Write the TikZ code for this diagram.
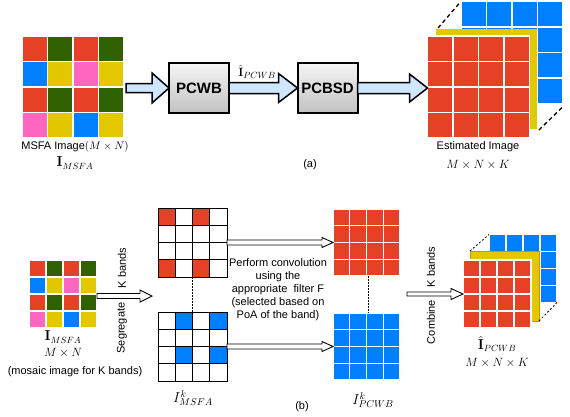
\documentclass[tikz,border=0pt]{standalone}
\usepackage[no-math]{fontspec}
\setmainfont{Liberation Sans}
\usetikzlibrary{calc}
\definecolor{mred}{HTML}{E64027}
\definecolor{mgreen}{HTML}{2F6100}
\definecolor{mblue}{HTML}{0080FF}
\definecolor{myellow}{HTML}{E3C800}
\definecolor{mgold}{HTML}{C09A00}
\definecolor{mpink}{HTML}{FF66C0}
\definecolor{arrowblue}{HTML}{CFE6FF}
\newcommand{\cellgrid}[4]{%
  \foreach \c [count=\i from 0] in {#3} {
    \pgfmathtruncatemacro\row{div(\i,4)}
    \pgfmathtruncatemacro\col{mod(\i,4)}
    \path[#4, fill=\c] ($(#1.north west)+(\col*#2,\row*#2)$) rectangle ++(#2,#2);
  }}
\newcommand{\barrow}[6]{%
  \draw[#1] let \p1=(#2), \p2=(#3) in
    (\x1,\y1+#4) -- (\x2-#6,\y1+#4) -- (\x2-#6,\y1+#5) -- (\x2,\y1)
    -- (\x2-#6,\y1-#5) -- (\x2-#6,\y1-#4) -- (\x1,\y1-#4) -- cycle;}
\begin{document}
\begin{tikzpicture}[x=1pt,y=-1pt,
  every node/.style={inner sep=0pt, outer sep=0pt, font=\fontsize{11}{13}\selectfont},
  gridbox/.style={minimum width=#1pt, minimum height=#1pt},
  procbox/.style={draw=black, line width=2pt, top color=gray!8, bottom color=gray!48,
    minimum width=60pt, minimum height=50pt, font=\fontsize{15}{18}\selectfont\bfseries},
  bigarrow/.style={fill=arrowblue, draw=black, line width=1.5pt, line join=miter},
  thinarrow/.style={fill=white, draw=black, line width=0.9pt, line join=miter},
  mathlbl/.style={font=\fontsize{12.5}{15}\selectfont},
  biglbl/.style={font=\fontsize{13.5}{16}\selectfont},
  colcell/.style={draw=white, line width=1.4pt},
  sparsecell/.style={draw=black, line width=0.9pt},
  cubecell/.style={draw=white, line width=1.5pt},
  vdots/.style={line width=0.6pt, dash pattern=on 1.5pt off 1.5pt},
]
\useasboundingbox (0,0) rectangle (570,416);

% ---------- (a) ----------
\node[gridbox=102] (mosA) at (73,87) {};
\cellgrid{mosA}{25.5}{mred,mgreen,mred,mgreen,mblue,myellow,mpink,myellow,mred,mgreen,mred,mgreen,mpink,myellow,mblue,myellow}{colcell}
\node (lblA1) at (75,147) {MSFA Image$(M\times N)$};
\node[biglbl] (lblA2) at (75,163) {$\mathbf{I}_{MSFA}$};

\node[procbox] (pcwb) at (199,88) {PCWB};
\node[procbox] (pcbsd) at (327.5,88) {PCBSD};

% cube (a)
\node[gridbox=102] (cubAb) at (512,52.5) {};
\cellgrid{cubAb}{25.5}{mblue,mblue,mblue,mblue,mblue,mblue,mblue,mblue,mblue,mblue,mblue,mblue,mblue,mblue,mblue,mblue}{cubecell}
\node[fill=myellow, minimum width=101pt, minimum height=100pt] (cubAy) at (486.5,79) {};
\node[gridbox=102] (cubAr) at (478.5,87) {};
\cellgrid{cubAr}{25.5}{mred,mred,mred,mred,mred,mred,mred,mred,mred,mred,mred,mred,mred,mred,mred,mred}{cubecell}
\draw[line width=1.3pt, dash pattern=on 4pt off 3pt] ($(cubAy.north west)+(2,-1)$) -- ($(cubAb.north west)+(-1,1)$);
\draw[line width=1.3pt, dash pattern=on 4pt off 3pt] ($(cubAy.south east)+(2,1)$) -- ($(cubAb.south east)+(0,3)$);
\node (lblA3) at (478,147) {Estimated Image};
\node[mathlbl] (lblA4) at (478,165) {$M\times N\times K$};
\node (lbla) at (310,165) {(a)};

\barrow{bigarrow}{$(mosA.east)+(2,1)$}{pcwb.west}{4.5pt}{15pt}{17pt}
\barrow{bigarrow}{pcwb.east}{pcbsd.west}{5.5pt}{14.5pt}{19pt}
\barrow{bigarrow}{pcbsd.east}{cubAr.west}{5.5pt}{14pt}{18pt}
\node[mathlbl] (lblhat) at (257,72) {$\hat{\mathbf{I}}_{PCWB}$};

% ---------- (b) ----------
\node[gridbox=68] (mosB) at (63,294) {};
\cellgrid{mosB}{17}{mred,mgreen,mred,mgreen,mblue,myellow,mpink,myellow,mred,mgreen,mred,mgreen,mpink,myellow,mblue,myellow}{colcell}
\node[biglbl] (lblB1) at (63,337) {$\mathbf{I}_{MSFA}$};
\node[mathlbl] (lblB2) at (63,353) {$M\times N$};
\node (lblB3) at (75,372) {(mosaic image for K bands)};

\node[gridbox=69] (spT) at (192.5,242.5) {};
\cellgrid{spT}{17.25}{mred,white,mred,white,white,white,white,white,white,white,white,white,mred,white,mred,white}{sparsecell}
\node[gridbox=69] (spB) at (192.5,346.5) {};
\cellgrid{spB}{17.25}{white,mblue,white,mblue,white,white,white,white,white,mblue,white,mblue,white,white,white,white}{sparsecell}
\draw[vdots] (spT.south) -- (spB.north);
\node[font=\fontsize{14}{16}\selectfont] (lblB4) at (193,398) {$I^k_{MSFA}$};

\node[gridbox=67] (fullR) at (366.5,242.5) {};
\cellgrid{fullR}{16.75}{mred,mred,mred,mred,mred,mred,mred,mred,mred,mred,mred,mred,mred,mred,mred,mred}{colcell}
\node[gridbox=67] (fullB) at (366.5,346.5) {};
\cellgrid{fullB}{16.75}{mblue,mblue,mblue,mblue,mblue,mblue,mblue,mblue,mblue,mblue,mblue,mblue,mblue,mblue,mblue,mblue}{colcell}
\draw[vdots] ($(fullR.south)+(1.5,0)$) -- ($(fullB.north)+(1.5,0)$);
\node[font=\fontsize{14}{16}\selectfont] (lblB5) at (373,400) {$I^k_{PCWB}$};
\node (lblb) at (302,407) {(b)};

\node[align=center] (conv) at (278,290) {Perform convolution\\using the\\appropriate\ \ filter F\\(selected based on\\PoA of the band)};

\coordinate (segEnd) at (152,296);
\barrow{thinarrow}{$(mosB.east)+(0,2)$}{segEnd}{2.5pt}{6pt}{12pt}
\node[rotate=90] (kb1) at (122,268) {K bands};
\node[rotate=90] (seg) at (122,328) {Segregate};

\barrow{thinarrow}{spT.east}{fullR.west}{2.5pt}{5pt}{11pt}
\barrow{thinarrow}{spB.east}{fullB.west}{2.5pt}{5pt}{11pt}

% cube (b)
\node[gridbox=68] (cubBb) at (523,268.5) {};
\cellgrid{cubBb}{17}{mblue,mblue,mblue,mblue,mblue,mblue,mblue,mblue,mblue,mblue,mblue,mblue,mblue,mblue,mblue,mblue}{cubecell}
\node[fill=myellow, draw=mgold, line width=0.8pt, minimum width=69pt, minimum height=70pt] (cubBy) at (504.5,286) {};
\node[gridbox=68] (cubBr) at (497,294) {};
\cellgrid{cubBr}{17}{mred,mred,mred,mred,mred,mred,mred,mred,mred,mred,mred,mred,mred,mred,mred,mred}{cubecell}
\draw[line width=0.8pt, dash pattern=on 2pt off 2pt] (cubBy.north west) -- (cubBb.north west);
\draw[line width=0.8pt, dash pattern=on 2pt off 2pt] (cubBy.south east) -- (cubBb.south east);

\coordinate (combStart) at (407,294);
\barrow{thinarrow}{combStart}{cubBr.west}{2pt}{5.5pt}{12pt}
\node[rotate=90] (kb2) at (431,267) {K bands};
\node[rotate=90] (comb) at (431,322) {Combine};

\node[biglbl] (lblB6) at (497,344) {$\hat{\mathbf{I}}_{PCWB}$};
\node[mathlbl] (lblB7) at (497,363) {$M\times N\times K$};
\end{tikzpicture}
\end{document}
